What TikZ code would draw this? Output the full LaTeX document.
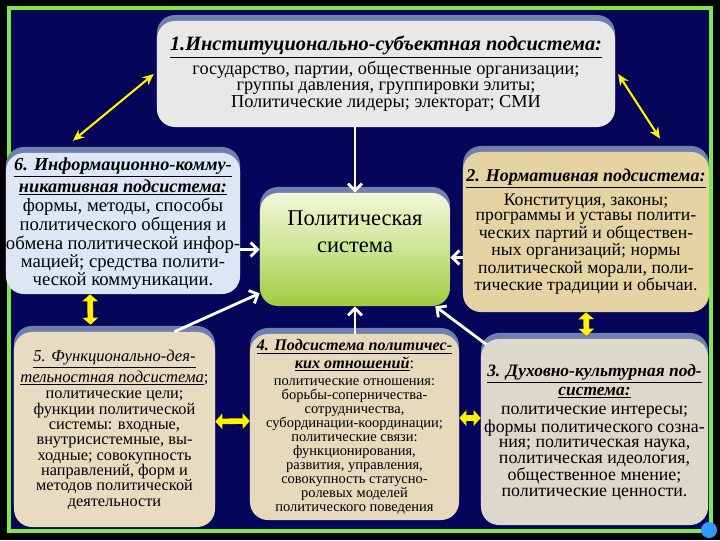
\documentclass[tikz,border=0pt]{standalone}
\usepackage{fontspec}
\setmainfont{Liberation Serif}
\usetikzlibrary{arrows.meta, shadows}

\definecolor{navy}{HTML}{05055A}
\definecolor{framegreen}{HTML}{7CE84A}
\definecolor{shadowblue}{HTML}{7080AE}
\definecolor{instgray}{HTML}{E8E8E6}
\definecolor{infoblue}{HTML}{DCE6F4}
\definecolor{normtan}{HTML}{E6D3A4}
\definecolor{funcbeige}{HTML}{E8DCC0}
\definecolor{relbeige}{HTML}{E6D9BC}
\definecolor{cultgray}{HTML}{DDD8CC}
\definecolor{sysyellow}{HTML}{F2F7D8}
\definecolor{sysgreen}{HTML}{9FCC3E}
\definecolor{dotblue}{HTML}{3399FF}

\newcommand{\hd}[1]{\underline{\textbf{\textit{#1}}}}
\newcommand{\hdi}[1]{\underline{\textit{#1}}}
\newcommand{\hdsize}[2]{{\fontsize{#1}{#1}\selectfont#2}}

\begin{document}
\begin{tikzpicture}[x=0.025cm, y=-0.025cm,
    subsys/.style={rectangle, rounded corners=0.45cm, inner sep=0pt, align=center, text=black,
        drop shadow={shadow xshift=0cm, shadow yshift=0.15cm, fill=shadowblue, opacity=1}},
    warrow/.style={-{Straight Barb[length=5pt,width=10pt]}, line width=2pt, white},
    yarrow/.style={{Stealth[length=8pt,width=7pt]}-{Stealth[length=8pt,width=7pt]}, line width=1.5pt, yellow},
    ylink/.style={{Triangle[length=5pt,width=11pt]}-{Triangle[length=5pt,width=11pt]}, line width=4pt, yellow}
]

\path[use as bounding box, fill=black] (0,0) rectangle (720,540);
\fill[navy] (9,8) rectangle (711,531);
\draw[framegreen, line width=2.8pt] (9,8) rectangle (711,531);

\node[subsys, fill=instgray, minimum width=11.45cm, minimum height=2.65cm,
    font=\fontsize{13}{11.2}\selectfont] (inst) at (386,74)
{\hdsize{14.5}{\hd{1.Институционально-субъектная подсистема:}}\\[1.5pt]
государство, партии, общественные организации;\\
группы давления, группировки элиты;\\
Политические лидеры; электорат; СМИ};

\node[subsys, fill=infoblue, minimum width=5.8cm, minimum height=3.525cm,
    font=\fontsize{13.3}{11.4}\selectfont] (info) at (123,223.5)
{\hdsize{13}{\hd{6. Информационно-комму-}}\\[1pt]
\hdsize{13}{\hd{никативная подсистема:}}\\[1pt]
формы, методы, способы\\
политического общения и\\
обмена политической инфор-\\
мацией; средства полити-\\
ческой коммуникации.};

\node[subsys, top color=sysyellow, bottom color=sysgreen, middle color=sysgreen!45!sysyellow,
    minimum width=4.75cm, minimum height=2.825cm,
    font=\fontsize{16}{19}\selectfont] (sys) at (355,249.5)
{Политическая\\ система\\[6pt]~};

\node[subsys, fill=normtan, minimum width=6.15cm, minimum height=4cm,
    font=\fontsize{12.6}{10.6}\selectfont] (norm) at (586,232)
{\hdsize{12.8}{\hd{2. Нормативная подсистема:}}\\[3pt]
Конституция, законы;\\
программы и уставы полити-\\
ческих партий и обществен-\\
ных организаций; нормы\\
политической морали, поли-\\
тические традиции и обычаи.};

\node[subsys, fill=funcbeige, minimum width=5.025cm, minimum height=4.875cm,
    font=\fontsize{11.6}{10.9}\selectfont] (func) at (114.5,429.5)
{\hdsize{11.8}{\hdi{5. Функционально-дея-}}\\[1pt]
\hdsize{11.8}{\hdi{тельностная подсистема};}\\[1pt]
политические цели;\\
функции политической\\
системы: входные,\\
внутрисистемные, вы-\\
ходные; совокупность\\
направлений, форм и\\
методов политической\\
деятельности};

\node[subsys, fill=relbeige, minimum width=5.225cm, minimum height=4.65cm,
    font=\fontsize{10.3}{10}\selectfont] (rel) at (354.5,427)
{\hdsize{11.5}{\hd{4. Подсистема политичес-}}\\[1pt]
\hdsize{11.5}{\hd{ких отношений}:}\\[2pt]
политические отношения:\\
борьбы-соперничества-\\
сотрудничества,\\
субординации-координации;\\
политические связи:\\
функционирования,\\
развития, управления,\\
совокупность статусно-\\
ролевых моделей\\
политического поведения};

\node[subsys, fill=cultgray, minimum width=5.675cm, minimum height=4.65cm,
    font=\fontsize{12.7}{11}\selectfont] (cult) at (594.5,432)
{\hdsize{12.4}{\hd{3. Духовно-культурная под-}}\\[2.5pt]
\hdsize{12.4}{\hd{система:}}\\[2.5pt]
политические интересы;\\
формы политического созна-\\
ния; политическая наука,\\
политическая идеология,\\
общественное мнение;\\
политические ценности.};

\draw[warrow] (inst.south -| sys) -- (sys.north);
\draw[warrow] (info.east |- sys.west) -- (sys.west);
\draw[warrow] ([yshift=-0.2cm]norm.west |- sys.east) -- ([yshift=-0.2cm]sys.east);
\draw[warrow] ([xshift=1.5cm]func.north) -- ([yshift=0.325cm]sys.south west);
\draw[warrow] (rel.north -| sys) -- (sys.south);
\draw[warrow] ([xshift=0.15cm,yshift=-0.15cm]cult.north west) -- ([xshift=-0.375cm]sys.south east);

\draw[yarrow] ([xshift=-2pt]inst.west) -- ([xshift=-1.25cm,yshift=0.3cm]info.north);
\draw[yarrow] ([xshift=2pt]inst.east) -- ([xshift=1.85cm,yshift=0.325cm]norm.north);
\draw[ylink] ([xshift=-0.825cm]info.south) -- ([xshift=-0.6cm,yshift=0.175cm]func.north);
\draw[ylink] (norm.south) -- ([xshift=-0.2cm,yshift=0.075cm]cult.north);
\draw[ylink] ([yshift=0.2cm]func.east) -- ([yshift=0.15cm]rel.west);
\draw[ylink] ([yshift=0.225cm]rel.east) -- ([yshift=0.35cm]cult.west);

\fill[dotblue] (709,530) circle (8);

\end{tikzpicture}
\end{document}
